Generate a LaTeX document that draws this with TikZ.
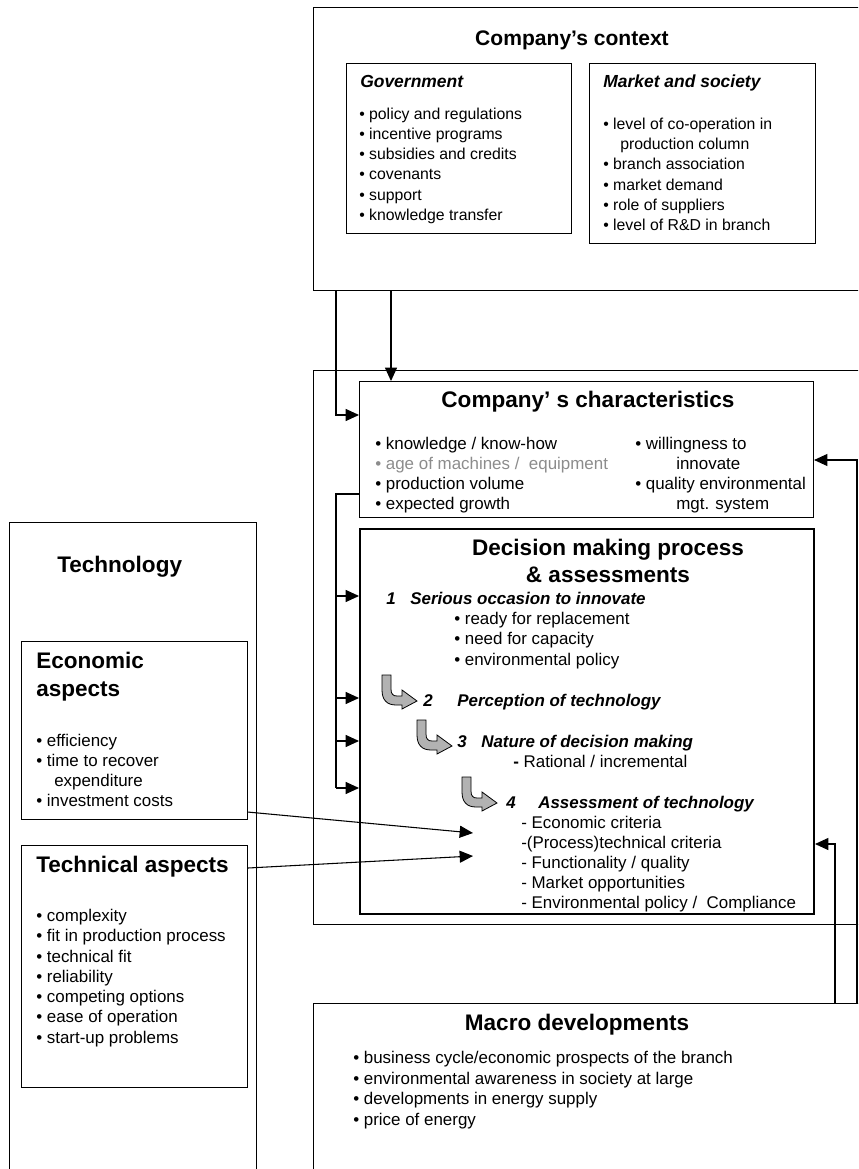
\documentclass[tikz,border=0pt]{standalone}
\usepackage{fontspec}
\setmainfont{Liberation Sans}
\usepackage{tikz}
\usetikzlibrary{positioning,arrows.meta,calc}
\definecolor{arrowgray}{RGB}{178,178,178}
\definecolor{fadedtext}{RGB}{140,140,140}
\tikzset{
    box/.style={draw, line width=0.8pt, anchor=north west, inner sep=0pt},
    heavy box/.style={box, line width=1.5pt},
    box title/.style={font=\fontsize{16.9}{20}\selectfont\bfseries, inner sep=0pt, text height=12.2pt, text depth=3.4pt},
    context title/.style={box title, font=\fontsize{15.8}{19}\selectfont\bfseries},
    sub title/.style={font=\fontsize{13.1}{16}\selectfont\bfseries\itshape, anchor=west, inner sep=0pt, text height=9.5pt, text depth=2.6pt},
    item/.style={font=\fontsize{12.7}{15}\selectfont, anchor=west, inner sep=0pt, text height=9.1pt, text depth=2.5pt},
    context item/.style={item, font=\fontsize{11.85}{14}\selectfont},
    stage/.style={item, font=\fontsize{12.7}{15}\selectfont\bfseries\itshape},
    link/.style={-{Triangle[length=10pt,width=9pt]}, line width=0.8pt},
    plain link/.style={line width=0.8pt},
    bent arrow/.pic={
        \draw[fill=arrowgray, line width=0.6pt] (0,0) -- (0,15) .. controls (0,25) and (5,30) .. (14,30)
            -- (20,30) -- (20,34) -- (35,26) -- (20,15) -- (20,21) -- (15,21)
            .. controls (11,21) and (9,19) .. (9,14) -- (9,0) -- cycle;
    }
}

\begin{document}
\begin{tikzpicture}[x=0.75pt, y=-0.75pt]
    \useasboundingbox (0,0) rectangle (858,1169);
    \clip (0,0) rectangle (858,1169);

    % Company's context
    \node[box, minimum width=425pt, minimum height=212.25pt] (context) at (313,7) {};
    \node[context title] (context title) at (572,40) {Company’s context};
    \node[box, minimum width=168.75pt, minimum height=127.5pt] (government) at (346,63) {};
    \node[sub title] (government title) at (360,83) {Government};
    \foreach \txt [count=\i from 0] in {policy and regulations, incentive programs, subsidies and credits, covenants, support, knowledge transfer}
        \node[context item] (gov-\i) at (359,{115+20.2*\i}) {• \txt};
    \node[box, minimum width=169.5pt, minimum height=135pt] (market) at (589,63) {};
    \node[sub title] (market title) at (603,83) {Market and society};
    \node[context item] (mkt-0) at (603,125) {• level of co-operation in};
    \node[context item] (mkt-1) at (620,145) {production column};
    \node[context item] (mkt-2) at (603,165) {• branch association};
    \node[context item] (mkt-3) at (603,186) {• market demand};
    \node[context item] (mkt-4) at (603,206) {• role of suppliers};
    \node[context item] (mkt-5) at (603,226) {• level of R\&D in branch};

    % Company block
    \node[box, minimum width=425pt, minimum height=415.5pt] (company) at (313,370) {};
    \node[box, minimum width=340.5pt, minimum height=102pt] (chars) at (359,381) {};
    \node[box title] (chars title) at (588,402) {Company’ s characteristics};
    \node[item] (chr-0) at (375,445) {• knowledge / know-how};
    \node[item, text=fadedtext] (chr-1) at (375,465) {• age of machines / \ equipment};
    \node[item] (chr-2) at (375,485) {• production volume};
    \node[item] (chr-3) at (375,505) {• expected growth};
    \node[item] (chr-4) at (635,445) {• willingness to};
    \node[item] (chr-5) at (676,465) {innovate};
    \node[item] (chr-6) at (635,485) {• quality environmental};
    \node[item] (chr-7) at (676,505) {mgt. system};

    % Decision making process
    \node[heavy box, minimum width=340.5pt, minimum height=288.75pt] (decision) at (359,528) {};
    \node[box title] (decision title) at (608,550) {Decision making process};
    \node[box title] (decision title2) at (608,577) {\& assessments};
    \node[stage] (stage1) at (386,600) {1\hspace{11pt}Serious occasion to innovate};
    \foreach \txt [count=\i from 0] in {ready for replacement, need for capacity, environmental policy}
        \node[item] (occ-\i) at (454,{620+20.4*\i}) {• \txt};
    \pic at (382,675) {bent arrow};
    \node[stage] (stage2) at (423,702) {2\hspace{18.5pt}Perception of technology};
    \pic at (417,720) {bent arrow};
    \node[stage] (stage3) at (457,743) {3\hspace{11pt}Nature of decision making};
    \node[item] (rational) at (513,763) {\textbf{-} Rational / incremental};
    \pic at (462,777) {bent arrow};
    \node[stage] (stage4) at (506,804) {4\hspace{17pt}Assessment of technology};
    \foreach \txt [count=\i from 0] in {- Economic criteria, -(Process)technical criteria, - Functionality / quality, - Market opportunities, - Environmental policy / \ Compliance}
        \node[item] (crit-\i) at (521,{824+20*\i}) {\txt};

    % Technology
    \node[box, minimum width=185.25pt, minimum height=508.5pt] (technology) at (9,522) {};
    \node[box title, anchor=west] (technology title) at (57,567) {Technology};
    \node[box, minimum width=169.5pt, minimum height=133.5pt] (econ) at (21,641) {};
    \node[box title, anchor=west] (econ title) at (36,663) {Economic};
    \node[box title, anchor=west] (econ title2) at (36,691) {aspects};
    \node[item] (eco-0) at (36,742) {• efficiency};
    \node[item] (eco-1) at (36,762) {• time to recover};
    \node[item] (eco-2) at (54,782) {expenditure};
    \node[item] (eco-3) at (36,802) {• investment costs};
    \node[box, minimum width=169.5pt, minimum height=181.5pt] (tech) at (21,845) {};
    \node[box title, anchor=west] (tech title) at (36,867) {Technical aspects};
    \foreach \txt [count=\i from 0] in {complexity, fit in production process, technical fit, reliability, competing options, ease of operation, start-up problems}
        \node[item] (tec-\i) at (36,{917+20.3*\i}) {• \txt};

    % Macro developments
    \node[box, minimum width=425pt, minimum height=147.75pt] (macro) at (313,1003) {};
    \node[box title] (macro title) at (577,1025) {Macro developments};
    \foreach \txt [count=\i from 0] in {business cycle/economic prospects of the branch, environmental awareness in society at large, developments in energy supply, price of energy}
        \node[item] (mac-\i) at (353,{1059+20.7*\i}) {• \txt};

    % Connectors
    \coordinate (tapA) at (336,415);
    \coordinate (tapB) at (391,330);
    \coordinate (tapC) at (336,494);
    \coordinate (br1) at (336,596);
    \coordinate (br2) at (336,698);
    \coordinate (br3) at (336,741);
    \coordinate (br4) at (336,788);
    \draw[link] (context.south -| tapA) |- (chars.west |- tapA);
    \draw[link] (context.south -| tapB) -- (chars.north -| tapB);
    \draw[plain link] (chars.west |- tapC) -- (tapC) -- (br4);
    \foreach \b in {br1,br2,br3,br4}
        \draw[link] (\b) -- (\b -| decision.west);

    \coordinate (econ in) at (473,833);
    \coordinate (tech in) at (473,856);
    \draw[link] ([yshift=6pt]econ.south east) -- (econ in);
    \draw[link] ([yshift=-17.25pt]tech.north east) -- (tech in);

    \coordinate (fbA) at (857,460);
    \coordinate (fbB) at (835,844);
    \draw[link] (macro.north -| fbA) |- (chars.east |- fbA);
    \draw[link] (macro.north -| fbB) |- (decision.east |- fbB);
\end{tikzpicture}
\end{document}
